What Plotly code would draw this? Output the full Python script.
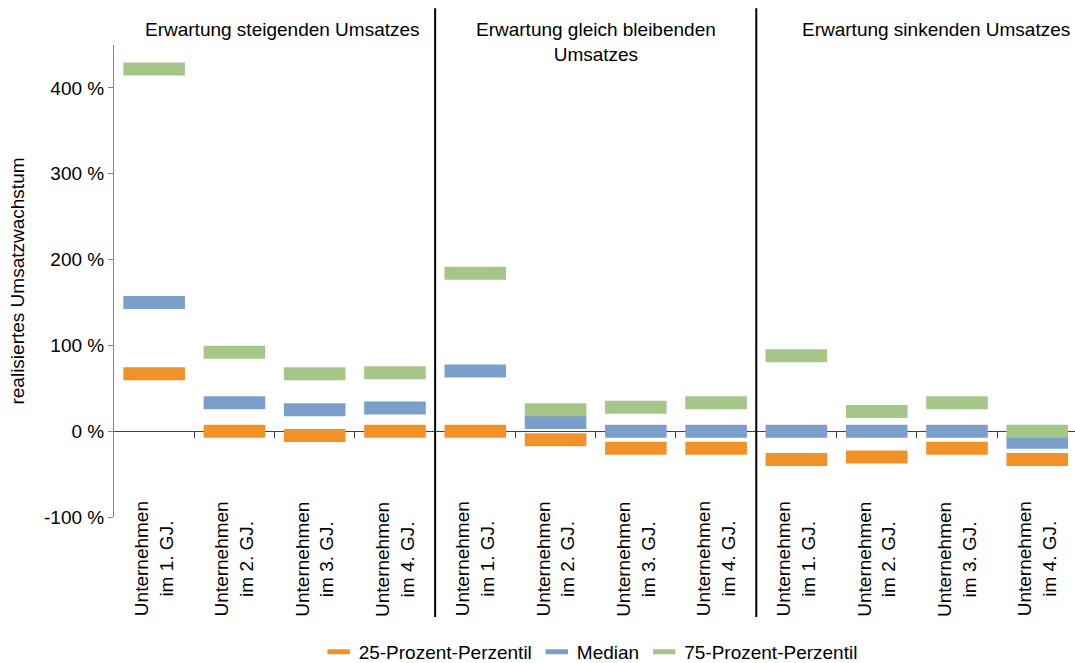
import plotly.graph_objects as go

# ---------------- data ----------------
categories = [
    "Unternehmen<br>im 1. GJ.", "Unternehmen<br>im 2. GJ.",
    "Unternehmen<br>im 3. GJ.", "Unternehmen<br>im 4. GJ.",
    "Unternehmen<br>im 1. GJ.", "Unternehmen<br>im 2. GJ.",
    "Unternehmen<br>im 3. GJ.", "Unternehmen<br>im 4. GJ.",
    "Unternehmen<br>im 1. GJ.", "Unternehmen<br>im 2. GJ.",
    "Unternehmen<br>im 3. GJ.", "Unternehmen<br>im 4. GJ.",
]
groups = [
    "Erwartung steigenden Umsatzes",
    "Erwartung gleich bleibenden<br>Umsatzes",
    "Erwartung sinkenden Umsatzes",
]
p25 = [67, 0, -5, 0, 0, -10, -20, -20, -33, -30, -20, -33]
median = [150, 33, 25, 27, 70, 10, 0, 0, 0, 0, 0, -13]
p75 = [422, 92, 67, 68, 184, 25, 28, 33, 88, 23, 33, 0]

series_names = ["25-Prozent-Perzentil", "Median", "75-Prozent-Perzentil"]
y_ticks = [-100, 0, 100, 200, 300, 400]
y_ticktext = ["-100 %", "0 %", "100 %", "200 %", "300 %", "400 %"]

# ---------------- style ----------------
FONT = "Arial, 'Liberation Sans', sans-serif"
colors = ["#F09228", "#7B9FCB", "#A6C689"]
xs = list(range(len(categories)))
X_RANGE = [-0.5, 11.47]
Y_RANGE = [-100, 450]

fig = go.Figure()
for name, vals, col in zip(series_names, [p25, median, p75], colors):
    fig.add_trace(go.Scatter(
        x=xs, y=vals, mode="markers", name=name,
        marker=dict(symbol="line-ew", size=44, color=col,
                    line=dict(width=13, color=col)),
        cliponaxis=False,
    ))

def xpaper(v):
    return (v - X_RANGE[0]) / (X_RANGE[1] - X_RANGE[0])

shapes = []
for b in [3.5, 7.5]:
    shapes.append(dict(type="line", xref="paper", yref="paper",
                       x0=xpaper(b), x1=xpaper(b), y0=-0.212, y1=1.078,
                       line=dict(color="black", width=2)))

annotations = []
for x, lab in zip(xs, categories):
    annotations.append(dict(x=x, y=-0.089, xref="x", yref="paper", text=lab,
                            showarrow=False, textangle=-90,
                            xanchor="center", yanchor="middle",
                            font=dict(size=19, color="black", family=FONT)))
group_pos = [(xpaper(1.6), "center"), (xpaper(5.5), "center"), (0.997, "right")]
for (gx, anc), g in zip(group_pos, groups):
    annotations.append(dict(x=gx, y=1.06, xref="paper", yref="paper", text=g,
                            showarrow=False, xanchor=anc, yanchor="top",
                            font=dict(size=19, color="black", family=FONT)))

fig.update_layout(
    width=1075, height=663,
    margin=dict(l=114, r=0, t=45, b=146, autoexpand=False),
    paper_bgcolor="white", plot_bgcolor="white",
    font=dict(family=FONT, size=19, color="black"),
    showlegend=True,
    legend=dict(orientation="h", x=0.496, xanchor="center",
                y=-0.286, yanchor="middle", font=dict(size=19),
                itemwidth=30, tracegroupgap=0),
    xaxis=dict(range=X_RANGE, anchor="free", automargin=False,
               position=(0 - Y_RANGE[0]) / (Y_RANGE[1] - Y_RANGE[0]),
               showgrid=False, zeroline=False, showline=True,
               linecolor="#404040", linewidth=1,
               tickvals=[i + 0.5 for i in xs[:-1] if i not in (3, 7)],
               ticks="outside", ticklen=6, tickcolor="#404040",
               showticklabels=False, layer="below traces"),
    yaxis=dict(range=Y_RANGE, tickvals=y_ticks, ticktext=y_ticktext,
               automargin=False,
               showgrid=False, zeroline=False, showline=True,
               linecolor="#868686", linewidth=1,
               ticks="outside", ticklen=5, tickcolor="#868686",
               tickfont=dict(size=19),
               title=dict(text="realisiertes Umsatzwachstum",
                          font=dict(size=19), standoff=14)),
    shapes=shapes,
    annotations=annotations,
)

fig.write_html("out.html", config={"displayModeBar": False},
               post_script="document.body.style.margin='0';document.body.style.overflow='hidden';")
